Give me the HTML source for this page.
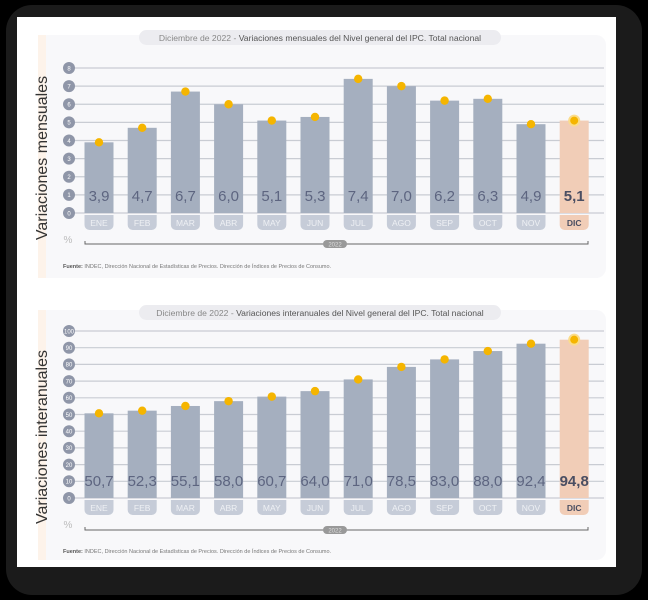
<!DOCTYPE html>
<html><head><meta charset="utf-8"><style>
html,body{margin:0;padding:0;background:#000;width:648px;height:600px;overflow:hidden}
svg{display:block}
text{font-family:"Liberation Sans",sans-serif}
.narrow{font-family:"Liberation Sans Narrow","Liberation Sans",sans-serif}
</style></head><body>
<svg id="s" width="648" height="600" xmlns="http://www.w3.org/2000/svg">
<rect x="6" y="5" width="636" height="590" rx="26" fill="#1b1b1b"/>
<rect x="17" y="17" width="599" height="550" fill="#ffffff"/>
</svg>
<script>
const months=["ENE","FEB","MAR","ABR","MAY","JUN","JUL","AGO","SEP","OCT","NOV","DIC"];
const monthly=[3.9,4.7,6.7,6.0,5.1,5.3,7.4,7.0,6.2,6.3,4.9,5.1];
const yearly=[50.7,52.3,55.1,58.0,60.7,64.0,71.0,78.5,83.0,88.0,92.4,94.8];
const ticks1=[0,1,2,3,4,5,6,7,8];
const ticks2=[0,10,20,30,40,50,60,70,80,90,100];
const svg=document.getElementById('s');
const NS="http://www.w3.org/2000/svg";
function el(t,a,p){const e=document.createElementNS(NS,t);for(const k in a)e.setAttribute(k,a[k]);(p||svg).appendChild(e);return e;}
function chart(cfg){
 const {top,y0,yTop,max,ticks,vals,title,ytitle,pre}=cfg;
 const g=el('g',{});
 
 
 const bg=el('rect',{x:38,y:top,width:568,height:cfg.h,rx:10,fill:'#f8f8fa'},g);
 
 
 el('rect',{x:38,y:top,width:8,height:cfg.h,fill:'#fdf3ea'},g);
 const pill=el('rect',{x:139,y:top-5,width:362,height:15,rx:7.5,fill:'#ececf0'},g);
 
 
 const tt=el('text',{x:320,y:top+6,'text-anchor':'middle','font-size':8.6,fill:'#555','class':'narrow'},g);
 tt.innerHTML='<tspan fill="#888">Diciembre de 2022 - </tspan>'+title;
 
 
 const ys=v=>y0-(y0-yTop)*v/max;
 const xs=i=>99+i*43.2;
 ticks.forEach(t=>{
  const gl=el('line',{x1:69,x2:604,y1:ys(t),y2:ys(t),stroke:'#c9ccd3','stroke-width':1.2},g);
  
  
  el('circle',{cx:69,cy:ys(t),r:6,fill:'#8f96a8'},g);
  const tl=el('text',{x:69,y:ys(t)+2.3,'text-anchor':'middle','font-size':6,fill:'#fff'},g);
  tl.textContent=t;
  
  
 });
 vals.forEach((v,i)=>{
  const last=i===vals.length-1;
  const x=xs(i);
  const b=el('rect',{x:x-14.5,y:ys(v),width:29,height:y0-ys(v),fill:last?'#f1cdb7':'#a5afbf'},g);
  
  
  const d=el('circle',{cx:x,cy:ys(v),r:last?5:4.2,fill:'#f5b500',stroke:last?'#fbdc8a':'none','stroke-width':2},g);
  
  
  const vl=el('text',{x:x,y:cfg.labY,'text-anchor':'middle','font-size':15,fill:last?'#4a4e62':'#5d6580','font-weight':last?'bold':'normal','class':'narrow'},g);
  vl.textContent=v.toFixed(1).replace('.',',');
  
  
  const mp=el('path',{d:`M${x-14.5},${y0+2}h29v10a5,5 0 0 1 -5,5h-19a5,5 0 0 1 -5,-5z`,fill:last?'#f1cdb7':'#c6ccd8'},g);
  
  
  const ml=el('text',{x:x,y:y0+13,'text-anchor':'middle','font-size':8.5,fill:last?'#4a4e62':'#eef0f4','font-weight':last?'bold':'normal','class':'narrow'},g);
  ml.textContent=months[i];
  
  
 });
 const yt=el('text',{x:0,y:0,'text-anchor':'middle','font-size':16,fill:'#333',transform:`translate(47,${cfg.ytY}) rotate(-90)`},g);
 yt.textContent=ytitle;
 
 
 const pc=el('text',{x:68,y:cfg.pctY,'text-anchor':'middle','font-size':10,fill:'#bbb'},g);
 pc.textContent='%';
 el('path',{d:`M85,${cfg.lineY-3}v3h503v-3`,fill:'none',stroke:'#666','stroke-width':1},g);
 el('rect',{x:323,y:cfg.lineY-4,width:24,height:8,rx:4,fill:'#999'},g);
 const yr=el('text',{x:335,y:cfg.lineY+2.3,'text-anchor':'middle','font-size':6,fill:'#ddd'},g);
 yr.textContent='2022';
 
 
 const fu=el('text',{x:63,y:cfg.fuY,'font-size':5.5,fill:'#777'},g);
 fu.innerHTML='<tspan font-weight="bold" fill="#555">Fuente:</tspan> INDEC, Dirección Nacional de Estadísticas de Precios. Dirección de Índices de Precios de Consumo.';
 
 
}
chart({pre:'monthly',top:35,h:243,y0:213,yTop:68,max:8,ticks:ticks1,vals:monthly,title:'Variaciones mensuales del Nivel general del IPC. Total nacional',ytitle:'Variaciones mensuales',labY:201,ytY:158,pctY:243,lineY:244,fuY:268});
chart({pre:'yearly',top:310,h:250,y0:498,yTop:331,max:100,ticks:ticks2,vals:yearly,title:'Variaciones interanuales del Nivel general del IPC. Total nacional',ytitle:'Variaciones interanuales',labY:486,ytY:437,pctY:528,lineY:530,fuY:553});
</script>
</body></html>
